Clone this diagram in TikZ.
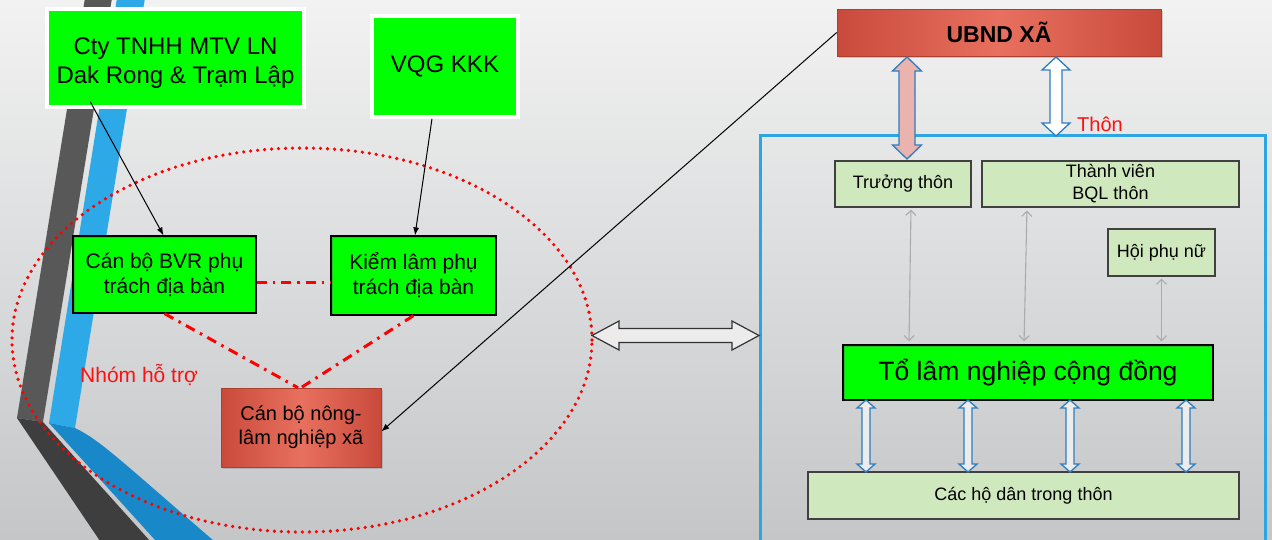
\documentclass[tikz,border=0pt]{standalone}
\usepackage{fontspec}
\setmainfont{Liberation Sans}
\usetikzlibrary{arrows.meta,shadows,calc}
\definecolor{bgtop}{HTML}{F2F2F2}
\definecolor{bgbot}{HTML}{C4C6C8}
\definecolor{dstripe}{HTML}{585858}
\definecolor{dstripeb}{HTML}{3E3E3E}
\definecolor{bstripe}{HTML}{2EA9E8}
\definecolor{bstripeb}{HTML}{1888C8}
\definecolor{gfill}{HTML}{00FF00}
\definecolor{gedge}{HTML}{18C818}
\definecolor{rdark}{HTML}{C94A3B}
\definecolor{rlight}{HTML}{E8705F}
\definecolor{lgreen}{HTML}{D0E8BE}
\definecolor{framecol}{HTML}{2CA5E2}
\definecolor{arrblue}{HTML}{2E7DBF}
\definecolor{pinkfill}{HTML}{EAB3AD}
\definecolor{garrow}{HTML}{ABABAB}
\definecolor{redtxt}{HTML}{FF1010}
\newcommand\vdbl[7]{\draw[#1] ({#2},{#3}) -- ({#2+#6},{#3+#7}) -- ({#2+#5},{#3+#7}) -- ({#2+#5},{#4-#7}) -- ({#2+#6},{#4-#7}) -- ({#2},{#4}) -- ({#2-#6},{#4-#7}) -- ({#2-#5},{#4-#7}) -- ({#2-#5},{#3+#7}) -- ({#2-#6},{#3+#7}) -- cycle;}
\newcommand\hdbl[7]{\draw[#1] ({#3},{#2}) -- ({#3+#7},{#2-#6}) -- ({#3+#7},{#2-#5}) -- ({#4-#7},{#2-#5}) -- ({#4-#7},{#2-#6}) -- ({#4},{#2}) -- ({#4-#7},{#2+#6}) -- ({#4-#7},{#2+#5}) -- ({#3+#7},{#2+#5}) -- ({#3+#7},{#2+#6}) -- cycle;}
\tikzset{
  greenbox/.style={fill=gfill, inner sep=0pt, align=center,
    path picture={\draw[gedge,line width=3pt] (path picture bounding box.south west) rectangle (path picture bounding box.north east);}},
  topbox/.style={greenbox, draw=white, line width=3.5pt,
    drop shadow={shadow xshift=1.5pt, shadow yshift=-1.5pt, opacity=0.3}},
  midbox/.style={greenbox, draw=black, line width=1.2pt},
  redbox/.style={shade, left color=rdark, right color=rdark, middle color=rlight,
    draw=rdark!85!black, line width=0.6pt, inner sep=0pt, align=center,
    drop shadow={shadow xshift=1.5pt, shadow yshift=-2pt, opacity=0.35}},
  lightbox/.style={fill=lgreen, draw=black!75, line width=1.2pt, inner sep=0pt, align=center,
    font=\fontsize{18}{22}\selectfont},
  blk/.style={draw=black, line width=1pt, -{Latex[length=8pt,width=6pt]}},
  rdd/.style={draw=red, line width=3pt, dash pattern=on 10pt off 6pt on 2.5pt off 6pt},
  reddots/.style={draw=red, line width=3.6pt, line cap=round, dash pattern=on 0pt off 7pt},
  gar/.style={draw=garrow, line width=1.1pt, {Straight Barb[length=5pt,width=10pt]}-{Straight Barb[length=5pt,width=10pt]}},
  pinkarr/.style={fill=pinkfill, draw=arrblue, line width=1.3pt},
  whitearr/.style={fill=white, draw=arrblue, line width=1.3pt},
  smallarr/.style={fill=white!85!gray, draw=arrblue, line width=1.3pt},
  blkarr/.style={fill=bgtop!95!gray, draw=black!80, line width=1.2pt},
  frame/.style={draw=framecol, line width=3pt}
}
\begin{document}
\begin{tikzpicture}[x=1pt,y=-1pt]
\useasboundingbox (0,0) rectangle (1272,539);
\shade[top color=bgtop, bottom color=bgbot] (0,0) rectangle (1272,539);
% decorative stripes
\fill[dstripe] (85,-2) -- (112,-2) -- (43,422) -- (17,418) -- cycle;
\fill[dstripeb] (17,418) -- (43,422) -- (150,541) -- (100,541) -- cycle;
\fill[bstripe] (117,-2) -- (145,-2) -- (75,428) -- (49,423) -- cycle;
\fill[bstripeb] (49,423) -- (75,428) .. controls (100,440) and (120,460) .. (214,541) -- (156,541) -- cycle;
% group ellipse
\draw[reddots] (302,340) ellipse [x radius=290pt, y radius=192pt];
% left nodes
\node[topbox, minimum width=257pt, minimum height=98pt, font=\fontsize{24}{29}\selectfont] (cty) at (175.5,58) {\rule{0pt}{26pt}Cty TNHH MTV LN\\Dak Rong \& Trạm Lập};
\node[topbox, minimum width=146pt, minimum height=101pt, font=\fontsize{24}{28}\selectfont] (vqg) at (445,66.5) {VQG KKK};
\node[midbox, minimum width=183pt, minimum height=77pt, font=\fontsize{21}{25}\selectfont] (bvr) at (164.5,274.5) {Cán bộ BVR phụ\\trách địa bàn};
\node[midbox, minimum width=165pt, minimum height=79pt, font=\fontsize{21}{25}\selectfont] (kiem) at (413.5,275.5) {Kiểm lâm phụ\\trách địa bàn};
\node[redbox, minimum width=160pt, minimum height=79pt, font=\fontsize{20}{24}\selectfont] (nong) at (301,427.5) {Cán bộ nông-\\lâm nghiệp xã};
\node[anchor=base west, inner sep=0pt, text=redtxt, font=\fontsize{21}{25}\selectfont] (nhom) at (80,382) {Nhóm hỗ trợ};
% right side
\draw[frame] (760,135) rectangle (1265,548);
\node[redbox, minimum width=324pt, minimum height=47pt, font=\bfseries\fontsize{23}{27}\selectfont] (ubnd) at (999,32.5) {UBND XÃ};
\node[lightbox, minimum width=136pt, minimum height=46pt] (truong) at (903,184) {Trưởng thôn};
\node[lightbox, minimum width=257pt, minimum height=46pt] (bql) at (1110.5,184) {Thành viên\\BQL thôn};
\node[lightbox, minimum width=107pt, minimum height=47pt] (hoi) at (1161.5,252.5) {Hội phụ nữ};
\node[midbox, line width=1.4pt, minimum width=370pt, minimum height=55pt, font=\fontsize{26.5}{30}\selectfont] (tolam) at (1028,372.5) {Tổ lâm nghiệp cộng đồng};
\node[lightbox, minimum width=431pt, minimum height=47pt] (cacho) at (1023.5,495.5) {Các hộ dân trong thôn};
\node[anchor=base west, inner sep=0pt, text=redtxt, font=\fontsize{20}{24}\selectfont] (thon) at (1077,131) {Thôn};
% block arrows
\vdbl{pinkarr}{907}{57}{159}{8}{14.5}{14}
\vdbl{whitearr}{1056}{57}{136}{6}{14}{13}
\vdbl{smallarr}{866}{400}{472}{4}{9}{8}
\vdbl{smallarr}{968}{400}{472}{4}{9}{8}
\vdbl{smallarr}{1070}{400}{472}{4}{9}{8}
\vdbl{smallarr}{1186}{400}{472}{4}{9}{8}
\hdbl{blkarr}{335.5}{592}{759}{7}{14.5}{27}
% gray connectors
\draw[gar, shorten <=2pt, shorten >=3pt] ([xshift=8pt]truong.south) -- ([xshift=6pt]truong.south |- tolam.north);
\draw[gar, shorten <=3pt, shorten >=3pt] ([xshift=-83.5pt]bql.south) -- ([xshift=-86.5pt]bql.south |- tolam.north);
\draw[gar, shorten <=2pt, shorten >=3pt] (hoi.south) -- (hoi.south |- tolam.north);
% dash-dot links
\draw[rdd] ([yshift=-8pt]bvr.east) -- ([yshift=-8pt]bvr.east -| kiem.west);
\draw[rdd] (bvr.south) -- ([xshift=-3pt]nong.north);
\draw[rdd] (kiem.south) -- (nong.north);
% black arrows
\draw[blk] ([shift={(45,-7)}]cty.south west) -- ([xshift=-1pt]bvr.north);
\draw[blk] ([xshift=-13pt]vqg.south) -- ([xshift=1.5pt]kiem.north);
\draw[blk] (ubnd.west) -- ([yshift=-4pt]nong.east);
\end{tikzpicture}
\end{document}
